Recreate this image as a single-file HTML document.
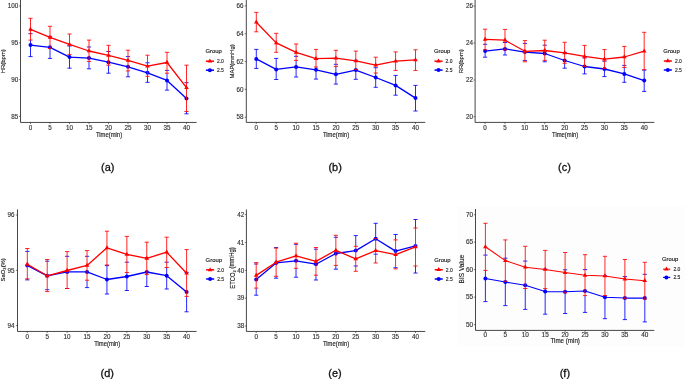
<!DOCTYPE html>
<html><head><meta charset="utf-8"><title>Figure</title>
<style>
html,body{margin:0;padding:0;background:#fff;}
body{width:685px;height:379px;overflow:hidden;}
svg{display:block;will-change:transform;}
text{stroke-width:0.15px;}
svg{font-family:"Liberation Sans",sans-serif;}
</style></head><body>
<svg width="685" height="379" viewBox="0 0 685 379">
<rect width="685" height="379" fill="#fff"/>
<rect x="457" y="206" width="228" height="141" fill="#fdfdfd"/>
<g id="pa"><path d="M20.5 0V122.45H196.6" fill="none" stroke="#262626" stroke-width="0.85"/>
<path d="M18.9 6H20.5M18.9 42.8H20.5M18.9 79.6H20.5M18.9 116.4H20.5M30.5 122.45V124.05M50 122.45V124.05M69.5 122.45V124.05M89 122.45V124.05M108.5 122.45V124.05M128 122.45V124.05M147.5 122.45V124.05M167 122.45V124.05M186.5 122.45V124.05" stroke="#262626" stroke-width="0.6"/>
<text x="18.3" y="6" text-anchor="end" font-size="6.3" fill="#333333" stroke="#333333" dy="0.35em">100</text>
<text x="18.3" y="42.8" text-anchor="end" font-size="6.3" fill="#333333" stroke="#333333" dy="0.35em">95</text>
<text x="18.3" y="79.6" text-anchor="end" font-size="6.3" fill="#333333" stroke="#333333" dy="0.35em">90</text>
<text x="18.3" y="116.4" text-anchor="end" font-size="6.3" fill="#333333" stroke="#333333" dy="0.35em">85</text>
<text x="30.5" y="127.6" text-anchor="middle" font-size="6.3" fill="#333333" stroke="#333333" dy="0.35em">0</text>
<text x="50" y="127.6" text-anchor="middle" font-size="6.3" fill="#333333" stroke="#333333" dy="0.35em">5</text>
<text x="69.5" y="127.6" text-anchor="middle" font-size="6.3" fill="#333333" stroke="#333333" dy="0.35em">10</text>
<text x="89" y="127.6" text-anchor="middle" font-size="6.3" fill="#333333" stroke="#333333" dy="0.35em">15</text>
<text x="108.5" y="127.6" text-anchor="middle" font-size="6.3" fill="#333333" stroke="#333333" dy="0.35em">20</text>
<text x="128" y="127.6" text-anchor="middle" font-size="6.3" fill="#333333" stroke="#333333" dy="0.35em">25</text>
<text x="147.5" y="127.6" text-anchor="middle" font-size="6.3" fill="#333333" stroke="#333333" dy="0.35em">30</text>
<text x="167" y="127.6" text-anchor="middle" font-size="6.3" fill="#333333" stroke="#333333" dy="0.35em">35</text>
<text x="186.5" y="127.6" text-anchor="middle" font-size="6.3" fill="#333333" stroke="#333333" dy="0.35em">40</text>
<text transform="translate(109 134.8) scale(0.89 1)" text-anchor="middle" font-size="6.6" fill="#222" stroke="#222" dy="0.35em">Time(min)</text>
<text transform="translate(2.9 61.2) rotate(-90) scale(1 1)" text-anchor="middle" font-size="5.9" fill="#222" stroke="#222" dy="0.35em">HR(bpm)</text>
<path d="M30.5 40.1V56.6M28.4 33.7H32.6M28.4 56.6H32.6M50 48.5V58.4M47.9 36.4H52.1M47.9 58.4H52.1M69.5 54.4V68.2M67.4 46H71.6M67.4 68.2H71.6M89 61.4V68.8M86.9 47H91.1M86.9 68.8H91.1M108.5 65.2V73.2M106.4 51.5H110.6M106.4 73.2H110.6M128 70.9V76.8M125.9 56.6H130.1M125.9 76.8H130.1M147.5 76.3V82.3M145.4 62.8H149.6M145.4 82.3H149.6M167 73.2V90.1M164.9 70.4H169.1M164.9 90.1H169.1M186.5 111.5V113.8M184.4 82.7H188.6M184.4 113.8H188.6" stroke="#0000ff" stroke-width="0.85" stroke-opacity="1" fill="none"/>
<polyline points="30.5,45.1 50,47.3 69.5,57.1 89,58.1 108.5,62.2 128,66.8 147.5,72.8 167,80.4 186.5,98.6" fill="none" stroke="#0000ff" stroke-width="1.3" stroke-linejoin="round"/>
<g fill="#0000ff"><circle cx="30.5" cy="45.1" r="2"/><circle cx="50" cy="47.3" r="2"/><circle cx="69.5" cy="57.1" r="2"/><circle cx="89" cy="58.1" r="2"/><circle cx="108.5" cy="62.2" r="2"/><circle cx="128" cy="66.8" r="2"/><circle cx="147.5" cy="72.8" r="2"/><circle cx="167" cy="80.4" r="2"/><circle cx="186.5" cy="98.6" r="2"/></g>
<path d="M30.5 18.3V40.1M28.4 18.3H32.6M28.4 40.1H32.6M50 26.3V48.5M47.9 26.3H52.1M47.9 48.5H52.1M69.5 34V54.4M67.4 34H71.6M67.4 54.4H71.6M89 40.1V61.4M86.9 40.1H91.1M86.9 61.4H91.1M108.5 45.3V65.2M106.4 45.3H110.6M106.4 65.2H110.6M128 50.2V70.9M125.9 50.2H130.1M125.9 70.9H130.1M147.5 55.2V76.3M145.4 55.2H149.6M145.4 76.3H149.6M167 52.3V73.2M164.9 52.3H169.1M164.9 73.2H169.1M186.5 65.2V111.5M184.4 65.2H188.6M184.4 111.5H188.6" stroke="#ff0000" stroke-width="0.85" stroke-opacity="1" fill="none"/>
<polyline points="30.5,29.4 50,37.4 69.5,44.4 89,51 108.5,55.4 128,60.4 147.5,66.1 167,62.5 186.5,87.7" fill="none" stroke="#ff0000" stroke-width="1.3" stroke-linejoin="round"/>
<g fill="#ff0000"><path d="M30.5 26.74L32.8 30.73L28.2 30.73Z"/><path d="M50 34.74L52.3 38.73L47.7 38.73Z"/><path d="M69.5 41.74L71.8 45.73L67.2 45.73Z"/><path d="M89 48.34L91.3 52.33L86.7 52.33Z"/><path d="M108.5 52.74L110.8 56.73L106.2 56.73Z"/><path d="M128 57.74L130.3 61.73L125.7 61.73Z"/><path d="M147.5 63.44L149.8 67.43L145.2 67.43Z"/><path d="M167 59.84L169.3 63.83L164.7 63.83Z"/><path d="M186.5 85.04L188.8 89.03L184.2 89.03Z"/></g>
<text x="205.4" y="51" font-size="5.9" fill="#222" stroke="#222" dy="0.35em">Group</text>
<path d="M205.9 61.2H214" stroke="#ff0000" stroke-width="1.5"/>
<g fill="#ff0000"><path d="M209.9 58.54L212.2 62.53L207.6 62.53Z"/></g>
<text transform="translate(217 61.2) scale(0.84 1)" font-size="5.9" fill="#222" stroke="#222" dy="0.35em">2.0</text>
<path d="M205.9 70.2H214" stroke="#0000ff" stroke-width="1.5"/>
<circle cx="209.9" cy="70.2" r="2" fill="#0000ff"/>
<text transform="translate(217 70.2) scale(0.84 1)" font-size="5.9" fill="#222" stroke="#222" dy="0.35em">2.5</text>
<text transform="translate(101 166.8) scale(0.97 1)" font-size="11.3" fill="#111" stroke="#111" style="stroke-width:0.3px" dy="0.35em">(a)</text></g>
<g id="pb"><path d="M246.3 0V122.4H425.3" fill="none" stroke="#262626" stroke-width="0.85"/>
<path d="M244.7 5.9H246.3M244.7 33.8H246.3M244.7 61.6H246.3M244.7 89.3H246.3M244.7 117.2H246.3M256.3 122.4V124M276.2 122.4V124M296.1 122.4V124M316 122.4V124M335.9 122.4V124M355.8 122.4V124M375.7 122.4V124M395.6 122.4V124M415.5 122.4V124" stroke="#262626" stroke-width="0.6"/>
<text x="243.6" y="5.9" text-anchor="end" font-size="6.3" fill="#333333" stroke="#333333" dy="0.35em">66</text>
<text x="243.6" y="33.8" text-anchor="end" font-size="6.3" fill="#333333" stroke="#333333" dy="0.35em">64</text>
<text x="243.6" y="61.6" text-anchor="end" font-size="6.3" fill="#333333" stroke="#333333" dy="0.35em">62</text>
<text x="243.6" y="89.3" text-anchor="end" font-size="6.3" fill="#333333" stroke="#333333" dy="0.35em">60</text>
<text x="243.6" y="117.2" text-anchor="end" font-size="6.3" fill="#333333" stroke="#333333" dy="0.35em">58</text>
<text x="256.3" y="127.6" text-anchor="middle" font-size="6.3" fill="#333333" stroke="#333333" dy="0.35em">0</text>
<text x="276.2" y="127.6" text-anchor="middle" font-size="6.3" fill="#333333" stroke="#333333" dy="0.35em">5</text>
<text x="296.1" y="127.6" text-anchor="middle" font-size="6.3" fill="#333333" stroke="#333333" dy="0.35em">10</text>
<text x="316" y="127.6" text-anchor="middle" font-size="6.3" fill="#333333" stroke="#333333" dy="0.35em">15</text>
<text x="335.9" y="127.6" text-anchor="middle" font-size="6.3" fill="#333333" stroke="#333333" dy="0.35em">20</text>
<text x="355.8" y="127.6" text-anchor="middle" font-size="6.3" fill="#333333" stroke="#333333" dy="0.35em">25</text>
<text x="375.7" y="127.6" text-anchor="middle" font-size="6.3" fill="#333333" stroke="#333333" dy="0.35em">30</text>
<text x="395.6" y="127.6" text-anchor="middle" font-size="6.3" fill="#333333" stroke="#333333" dy="0.35em">35</text>
<text x="415.5" y="127.6" text-anchor="middle" font-size="6.3" fill="#333333" stroke="#333333" dy="0.35em">40</text>
<text transform="translate(336 134.8) scale(0.89 1)" text-anchor="middle" font-size="6.6" fill="#222" stroke="#222" dy="0.35em">Time(min)</text>
<text transform="translate(231.5 61.4) rotate(-90) scale(1 1)" text-anchor="middle" font-size="5.9" fill="#222" stroke="#222" dy="0.35em">MAP(mmHg)</text>
<path d="M256.3 49.4V68.4M254.2 49.4H258.4M254.2 68.4H258.4M276.2 58.4V79.5M274.1 58.4H278.3M274.1 79.5H278.3M296.1 60.4V77M294 56.3H298.2M294 77H298.2M316 67V79.1M313.9 59.5H318.1M313.9 79.1H318.1M335.9 66.4V84.1M333.8 64.3H338M333.8 84.1H338M355.8 69.6V79.3M353.7 60.3H357.9M353.7 79.3H357.9M375.7 73V87.3M373.6 67.7H377.8M373.6 87.3H377.8M395.6 75.4V95.2M393.5 75.4H397.7M393.5 95.2H397.7M415.5 85.4V111M413.4 85.4H417.6M413.4 111H417.6" stroke="#0000ff" stroke-width="0.85" stroke-opacity="1" fill="none"/>
<polyline points="256.3,58.9 276.2,69.4 296.1,66.9 316,69.8 335.9,74.3 355.8,70.1 375.7,77.5 395.6,85.4 415.5,98.1" fill="none" stroke="#0000ff" stroke-width="1.3" stroke-linejoin="round"/>
<g fill="#0000ff"><circle cx="256.3" cy="58.9" r="2"/><circle cx="276.2" cy="69.4" r="2"/><circle cx="296.1" cy="66.9" r="2"/><circle cx="316" cy="69.8" r="2"/><circle cx="335.9" cy="74.3" r="2"/><circle cx="355.8" cy="70.1" r="2"/><circle cx="375.7" cy="77.5" r="2"/><circle cx="395.6" cy="85.4" r="2"/><circle cx="415.5" cy="98.1" r="2"/></g>
<path d="M256.3 12.4V31.8M254.2 12.4H258.4M254.2 31.8H258.4M276.2 33.3V52.3M274.1 33.3H278.3M274.1 52.3H278.3M296.1 44V60.4M294 44H298.2M294 60.4H298.2M316 49.4V67M313.9 49.4H318.1M313.9 67H318.1M335.9 50.3V66.4M333.8 50.3H338M333.8 66.4H338M355.8 51.1V69.6M353.7 51.1H357.9M353.7 69.6H357.9M375.7 57.2V73M373.6 57.2H377.8M373.6 73H377.8M395.6 51.9V70.4M393.5 51.9H397.7M393.5 70.4H397.7M415.5 49.8V70.4M413.4 49.8H417.6M413.4 70.4H417.6" stroke="#ff0000" stroke-width="0.85" stroke-opacity="1" fill="none"/>
<polyline points="256.3,22.2 276.2,42.9 296.1,52.3 316,58.6 335.9,58.2 355.8,60.9 375.7,65.1 395.6,61.1 415.5,59.8" fill="none" stroke="#ff0000" stroke-width="1.3" stroke-linejoin="round"/>
<g fill="#ff0000"><path d="M256.3 19.54L258.6 23.53L254 23.53Z"/><path d="M276.2 40.24L278.5 44.23L273.9 44.23Z"/><path d="M296.1 49.64L298.4 53.63L293.8 53.63Z"/><path d="M316 55.94L318.3 59.93L313.7 59.93Z"/><path d="M335.9 55.54L338.2 59.53L333.6 59.53Z"/><path d="M355.8 58.24L358.1 62.23L353.5 62.23Z"/><path d="M375.7 62.44L378 66.43L373.4 66.43Z"/><path d="M395.6 58.44L397.9 62.43L393.3 62.43Z"/><path d="M415.5 57.14L417.8 61.13L413.2 61.13Z"/></g>
<text x="434" y="51" font-size="5.9" fill="#222" stroke="#222" dy="0.35em">Group</text>
<path d="M434.5 61.2H442.6" stroke="#ff0000" stroke-width="1.5"/>
<g fill="#ff0000"><path d="M438.5 58.54L440.8 62.53L436.2 62.53Z"/></g>
<text transform="translate(445.6 61.2) scale(0.84 1)" font-size="5.9" fill="#222" stroke="#222" dy="0.35em">2.0</text>
<path d="M434.5 70.1H442.6" stroke="#0000ff" stroke-width="1.5"/>
<circle cx="438.5" cy="70.1" r="2" fill="#0000ff"/>
<text transform="translate(445.6 70.1) scale(0.84 1)" font-size="5.9" fill="#222" stroke="#222" dy="0.35em">2.5</text>
<text transform="translate(328.4 166.8) scale(0.97 1)" font-size="11.3" fill="#111" stroke="#111" style="stroke-width:0.3px" dy="0.35em">(b)</text></g>
<g id="pc"><path d="M475.1 0V122.4H654.3" fill="none" stroke="#262626" stroke-width="0.85"/>
<path d="M473.5 6.1H475.1M473.5 43H475.1M473.5 80H475.1M473.5 116.7H475.1M485.1 122.4V124M504.99 122.4V124M524.88 122.4V124M544.76 122.4V124M564.65 122.4V124M584.54 122.4V124M604.43 122.4V124M624.31 122.4V124M644.2 122.4V124" stroke="#262626" stroke-width="0.6"/>
<text x="472.9" y="6.1" text-anchor="end" font-size="6.3" fill="#333333" stroke="#333333" dy="0.35em">26</text>
<text x="472.9" y="43" text-anchor="end" font-size="6.3" fill="#333333" stroke="#333333" dy="0.35em">24</text>
<text x="472.9" y="80" text-anchor="end" font-size="6.3" fill="#333333" stroke="#333333" dy="0.35em">22</text>
<text x="472.9" y="116.7" text-anchor="end" font-size="6.3" fill="#333333" stroke="#333333" dy="0.35em">20</text>
<text x="485.1" y="127.6" text-anchor="middle" font-size="6.3" fill="#333333" stroke="#333333" dy="0.35em">0</text>
<text x="504.99" y="127.6" text-anchor="middle" font-size="6.3" fill="#333333" stroke="#333333" dy="0.35em">5</text>
<text x="524.88" y="127.6" text-anchor="middle" font-size="6.3" fill="#333333" stroke="#333333" dy="0.35em">10</text>
<text x="544.76" y="127.6" text-anchor="middle" font-size="6.3" fill="#333333" stroke="#333333" dy="0.35em">15</text>
<text x="564.65" y="127.6" text-anchor="middle" font-size="6.3" fill="#333333" stroke="#333333" dy="0.35em">20</text>
<text x="584.54" y="127.6" text-anchor="middle" font-size="6.3" fill="#333333" stroke="#333333" dy="0.35em">25</text>
<text x="604.43" y="127.6" text-anchor="middle" font-size="6.3" fill="#333333" stroke="#333333" dy="0.35em">30</text>
<text x="624.31" y="127.6" text-anchor="middle" font-size="6.3" fill="#333333" stroke="#333333" dy="0.35em">35</text>
<text x="644.2" y="127.6" text-anchor="middle" font-size="6.3" fill="#333333" stroke="#333333" dy="0.35em">40</text>
<text transform="translate(565.1 134.8) scale(0.89 1)" text-anchor="middle" font-size="6.6" fill="#222" stroke="#222" dy="0.35em">Time(min)</text>
<text transform="translate(460.5 61.2) rotate(-90) scale(1 1)" text-anchor="middle" font-size="5.9" fill="#222" stroke="#222" dy="0.35em">RR(bpm)</text>
<path d="M485.1 49.8V57.2M483 44.3H487.2M483 57.2H487.2M504.99 50V55M502.89 42.5H507.09M502.89 55H507.09M522.77 43.4H526.98M522.77 60.4H526.98M544.76 60.4V61.8M542.66 45.2H546.86M542.66 61.8H546.86M564.65 63.3V68.2M562.55 52.5H566.75M562.55 68.2H566.75M584.54 66.5V73.9M582.44 58H586.64M582.44 73.9H586.64M604.43 68.5V76.6M602.33 61.2H606.53M602.33 76.6H606.53M624.31 67.5V82.3M622.21 65.4H626.41M622.21 82.3H626.41M644.2 70.1V91.4M642.1 70.1H646.3M642.1 91.4H646.3" stroke="#0000ff" stroke-width="0.85" stroke-opacity="1" fill="none"/>
<polyline points="485.1,51.1 504.99,48.9 524.88,52.1 544.76,53.5 564.65,60.5 584.54,66.5 604.43,69 624.31,73.9 644.2,80.6" fill="none" stroke="#0000ff" stroke-width="1.3" stroke-linejoin="round"/>
<g fill="#0000ff"><circle cx="485.1" cy="51.1" r="2"/><circle cx="504.99" cy="48.9" r="2"/><circle cx="524.88" cy="52.1" r="2"/><circle cx="544.76" cy="53.5" r="2"/><circle cx="564.65" cy="60.5" r="2"/><circle cx="584.54" cy="66.5" r="2"/><circle cx="604.43" cy="69" r="2"/><circle cx="624.31" cy="73.9" r="2"/><circle cx="644.2" cy="80.6" r="2"/></g>
<path d="M485.1 29.2V49.8M483 29.2H487.2M483 49.8H487.2M504.99 29.4V50M502.89 29.4H507.09M502.89 50H507.09M524.88 40.6V61.8M522.77 40.6H526.98M522.77 61.8H526.98M544.76 40.2V60.4M542.66 40.2H546.86M542.66 60.4H546.86M564.65 42.3V63.3M562.55 42.3H566.75M562.55 63.3H566.75M584.54 45.4V66.5M582.44 45.4H586.64M582.44 66.5H586.64M604.43 49.6V68.5M602.33 49.6H606.53M602.33 68.5H606.53M624.31 46.4V67.5M622.21 46.4H626.41M622.21 67.5H626.41M644.2 32.3V69.7M642.1 32.3H646.3M642.1 69.7H646.3" stroke="#ff0000" stroke-width="0.85" stroke-opacity="1" fill="none"/>
<polyline points="485.1,39.3 504.99,40.2 524.88,51.3 544.76,50.5 564.65,52.8 584.54,56.3 604.43,59.1 624.31,57 644.2,51.1" fill="none" stroke="#ff0000" stroke-width="1.3" stroke-linejoin="round"/>
<g fill="#ff0000"><path d="M485.1 36.64L487.4 40.63L482.8 40.63Z"/><path d="M504.99 37.54L507.29 41.53L502.69 41.53Z"/><path d="M524.88 48.64L527.17 52.63L522.58 52.63Z"/><path d="M544.76 47.84L547.06 51.83L542.46 51.83Z"/><path d="M564.65 50.14L566.95 54.13L562.35 54.13Z"/><path d="M584.54 53.64L586.84 57.63L582.24 57.63Z"/><path d="M604.43 56.44L606.73 60.43L602.13 60.43Z"/><path d="M624.31 54.34L626.61 58.33L622.01 58.33Z"/><path d="M644.2 48.44L646.5 52.43L641.9 52.43Z"/></g>
<text x="663.3" y="51" font-size="5.9" fill="#222" stroke="#222" dy="0.35em">Group</text>
<path d="M663.8 61H671.9" stroke="#ff0000" stroke-width="1.5"/>
<g fill="#ff0000"><path d="M667.8 58.34L670.1 62.33L665.5 62.33Z"/></g>
<text transform="translate(674.9 61) scale(0.84 1)" font-size="5.9" fill="#222" stroke="#222" dy="0.35em">2.0</text>
<path d="M663.8 70H671.9" stroke="#0000ff" stroke-width="1.5"/>
<circle cx="667.8" cy="70" r="2" fill="#0000ff"/>
<text transform="translate(674.9 70) scale(0.84 1)" font-size="5.9" fill="#222" stroke="#222" dy="0.35em">2.5</text>
<text transform="translate(558 166.9) scale(0.97 1)" font-size="11.3" fill="#111" stroke="#111" style="stroke-width:0.3px" dy="0.35em">(c)</text></g>
<g id="pd"><path d="M17.5 209.4V331.45H196.6" fill="none" stroke="#262626" stroke-width="0.85"/>
<path d="M15.9 215H17.5M15.9 270.4H17.5M15.9 325.6H17.5M27.3 331.45V333.05M47.21 331.45V333.05M67.12 331.45V333.05M87.04 331.45V333.05M106.95 331.45V333.05M126.86 331.45V333.05M146.77 331.45V333.05M166.69 331.45V333.05M186.6 331.45V333.05" stroke="#262626" stroke-width="0.6"/>
<text x="14.5" y="215" text-anchor="end" font-size="6.3" fill="#333333" stroke="#333333" dy="0.35em">96</text>
<text x="14.5" y="270.4" text-anchor="end" font-size="6.3" fill="#333333" stroke="#333333" dy="0.35em">95</text>
<text x="14.5" y="325.6" text-anchor="end" font-size="6.3" fill="#333333" stroke="#333333" dy="0.35em">94</text>
<text x="27.3" y="336.6" text-anchor="middle" font-size="6.3" fill="#333333" stroke="#333333" dy="0.35em">0</text>
<text x="47.21" y="336.6" text-anchor="middle" font-size="6.3" fill="#333333" stroke="#333333" dy="0.35em">5</text>
<text x="67.12" y="336.6" text-anchor="middle" font-size="6.3" fill="#333333" stroke="#333333" dy="0.35em">10</text>
<text x="87.04" y="336.6" text-anchor="middle" font-size="6.3" fill="#333333" stroke="#333333" dy="0.35em">15</text>
<text x="106.95" y="336.6" text-anchor="middle" font-size="6.3" fill="#333333" stroke="#333333" dy="0.35em">20</text>
<text x="126.86" y="336.6" text-anchor="middle" font-size="6.3" fill="#333333" stroke="#333333" dy="0.35em">25</text>
<text x="146.77" y="336.6" text-anchor="middle" font-size="6.3" fill="#333333" stroke="#333333" dy="0.35em">30</text>
<text x="166.69" y="336.6" text-anchor="middle" font-size="6.3" fill="#333333" stroke="#333333" dy="0.35em">35</text>
<text x="186.6" y="336.6" text-anchor="middle" font-size="6.3" fill="#333333" stroke="#333333" dy="0.35em">40</text>
<text transform="translate(107.2 343.8) scale(0.89 1)" text-anchor="middle" font-size="6.6" fill="#222" stroke="#222" dy="0.35em">Time(min)</text>
<text transform="translate(3.2 269.8) rotate(-90) scale(1 1)" text-anchor="middle" font-size="5.9" fill="#222" stroke="#222" dy="0.35em">SaO<tspan font-size="70%" dy="0.18em">2</tspan><tspan dy="-0.18em">(%)</tspan></text>
<path d="M27.3 278.8V279.9M25.2 251.4H29.4M25.2 279.9H29.4M45.11 261.2H49.31M45.11 289.7H49.31M65.03 256.3H69.22M65.03 288.5H69.22M87.04 280.2V287.6M84.94 256.3H89.14M84.94 287.6H89.14M106.95 265.6V294M104.85 265.6H109.05M104.85 294H109.05M126.86 272.5V290.5M124.76 262.2H128.96M124.76 290.5H128.96M146.77 274.6V286.5M144.67 257.5H148.87M144.67 286.5H148.87M166.69 267.5V289M164.59 262.2H168.79M164.59 289H168.79M186.6 296.4V311.8M184.5 272.4H188.7M184.5 311.8H188.7" stroke="#0000ff" stroke-width="0.85" stroke-opacity="1" fill="none"/>
<polyline points="27.3,265.4 47.21,275.8 67.12,271.9 87.04,271.9 106.95,279.5 126.86,276.5 146.77,272 166.69,275.7 186.6,292.1" fill="none" stroke="#0000ff" stroke-width="1.3" stroke-linejoin="round"/>
<g fill="#0000ff"><circle cx="27.3" cy="265.4" r="2"/><circle cx="47.21" cy="275.8" r="2"/><circle cx="67.12" cy="271.9" r="2"/><circle cx="87.04" cy="271.9" r="2"/><circle cx="106.95" cy="279.5" r="2"/><circle cx="126.86" cy="276.5" r="2"/><circle cx="146.77" cy="272" r="2"/><circle cx="166.69" cy="275.7" r="2"/><circle cx="186.6" cy="292.1" r="2"/></g>
<path d="M27.3 248.5V278.8M25.2 248.5H29.4M25.2 278.8H29.4M47.21 259.5V291.6M45.11 259.5H49.31M45.11 291.6H49.31M67.12 251.6V288.5M65.03 251.6H69.22M65.03 288.5H69.22M87.04 250.6V280.2M84.94 250.6H89.14M84.94 280.2H89.14M106.95 231.2V265M104.85 231.2H109.05M104.85 265H109.05M126.86 236.4V272.5M124.76 236.4H128.96M124.76 272.5H128.96M146.77 242.2V274.6M144.67 242.2H148.87M144.67 274.6H148.87M166.69 237.2V267.5M164.59 237.2H168.79M164.59 267.5H168.79M186.6 249.6V296.4M184.5 249.6H188.7M184.5 296.4H188.7" stroke="#ff0000" stroke-width="0.85" stroke-opacity="1" fill="none"/>
<polyline points="27.3,264.2 47.21,275.8 67.12,270.5 87.04,265.4 106.95,247.8 126.86,254.3 146.77,258.3 166.69,252.2 186.6,273.2" fill="none" stroke="#ff0000" stroke-width="1.3" stroke-linejoin="round"/>
<g fill="#ff0000"><path d="M27.3 261.54L29.6 265.53L25 265.53Z"/><path d="M47.21 273.14L49.51 277.13L44.91 277.13Z"/><path d="M67.12 267.84L69.42 271.83L64.83 271.83Z"/><path d="M87.04 262.74L89.34 266.73L84.74 266.73Z"/><path d="M106.95 245.14L109.25 249.13L104.65 249.13Z"/><path d="M126.86 251.64L129.16 255.63L124.56 255.63Z"/><path d="M146.77 255.64L149.07 259.63L144.47 259.63Z"/><path d="M166.69 249.54L168.99 253.53L164.39 253.53Z"/><path d="M186.6 270.54L188.9 274.53L184.3 274.53Z"/></g>
<text x="205.6" y="259.6" font-size="5.9" fill="#222" stroke="#222" dy="0.35em">Group</text>
<path d="M206.1 269.8H214.2" stroke="#ff0000" stroke-width="1.5"/>
<g fill="#ff0000"><path d="M210.1 267.14L212.4 271.13L207.8 271.13Z"/></g>
<text transform="translate(217.2 269.8) scale(0.84 1)" font-size="5.9" fill="#222" stroke="#222" dy="0.35em">2.0</text>
<path d="M206.1 279H214.2" stroke="#0000ff" stroke-width="1.5"/>
<circle cx="210.1" cy="279" r="2" fill="#0000ff"/>
<text transform="translate(217.2 279) scale(0.84 1)" font-size="5.9" fill="#222" stroke="#222" dy="0.35em">2.5</text>
<text transform="translate(100.5 372.7) scale(0.97 1)" font-size="11.3" fill="#111" stroke="#111" style="stroke-width:0.3px" dy="0.35em">(d)</text></g>
<g id="pe"><path d="M246.4 209.5V331.45H425.3" fill="none" stroke="#262626" stroke-width="0.85"/>
<path d="M244.8 214.6H246.4M244.8 242.5H246.4M244.8 270.4H246.4M244.8 298.2H246.4M244.8 326H246.4M256.2 331.45V333.05M276.11 331.45V333.05M296.02 331.45V333.05M315.94 331.45V333.05M335.85 331.45V333.05M355.76 331.45V333.05M375.67 331.45V333.05M395.59 331.45V333.05M415.5 331.45V333.05" stroke="#262626" stroke-width="0.6"/>
<text x="244.2" y="214.6" text-anchor="end" font-size="6.3" fill="#333333" stroke="#333333" dy="0.35em">42</text>
<text x="244.2" y="242.5" text-anchor="end" font-size="6.3" fill="#333333" stroke="#333333" dy="0.35em">41</text>
<text x="244.2" y="270.4" text-anchor="end" font-size="6.3" fill="#333333" stroke="#333333" dy="0.35em">40</text>
<text x="244.2" y="298.2" text-anchor="end" font-size="6.3" fill="#333333" stroke="#333333" dy="0.35em">39</text>
<text x="244.2" y="326" text-anchor="end" font-size="6.3" fill="#333333" stroke="#333333" dy="0.35em">38</text>
<text x="256.2" y="336.6" text-anchor="middle" font-size="6.3" fill="#333333" stroke="#333333" dy="0.35em">0</text>
<text x="276.11" y="336.6" text-anchor="middle" font-size="6.3" fill="#333333" stroke="#333333" dy="0.35em">5</text>
<text x="296.02" y="336.6" text-anchor="middle" font-size="6.3" fill="#333333" stroke="#333333" dy="0.35em">10</text>
<text x="315.94" y="336.6" text-anchor="middle" font-size="6.3" fill="#333333" stroke="#333333" dy="0.35em">15</text>
<text x="335.85" y="336.6" text-anchor="middle" font-size="6.3" fill="#333333" stroke="#333333" dy="0.35em">20</text>
<text x="355.76" y="336.6" text-anchor="middle" font-size="6.3" fill="#333333" stroke="#333333" dy="0.35em">25</text>
<text x="375.67" y="336.6" text-anchor="middle" font-size="6.3" fill="#333333" stroke="#333333" dy="0.35em">30</text>
<text x="395.59" y="336.6" text-anchor="middle" font-size="6.3" fill="#333333" stroke="#333333" dy="0.35em">35</text>
<text x="415.5" y="336.6" text-anchor="middle" font-size="6.3" fill="#333333" stroke="#333333" dy="0.35em">40</text>
<text transform="translate(336 343.8) scale(0.89 1)" text-anchor="middle" font-size="6.6" fill="#222" stroke="#222" dy="0.35em">Time(min)</text>
<text transform="translate(232.5 268) rotate(-90) scale(0.93 1)" text-anchor="middle" font-size="6.3" fill="#222" stroke="#222" dy="0.35em">ETCO<tspan font-size="70%" dy="0.25em">2</tspan><tspan dy="-0.25em"> (mmHg)</tspan></text>
<path d="M256.2 288.1V295.2M254.1 264H258.3M254.1 295.2H258.3M276.11 247.6V248.1M276.11 276.3V278.2M274.01 247.6H278.21M274.01 278.2H278.21M296.02 268.3V277.2M293.92 244.3H298.12M293.92 277.2H298.12M315.94 275.2V280M313.84 249.2H318.04M313.84 280H318.04M335.85 265.4V269.2M333.75 237.3H337.95M333.75 269.2H337.95M355.76 235.6V246.3M353.66 235.6H357.86M353.66 266H357.86M375.67 223.3V238.5M373.57 223.3H377.77M373.57 254.2H377.77M395.59 234.5V239.9M393.49 234.5H397.69M393.49 267.7H397.69M415.5 219.5V228M415.5 266V273M413.4 219.5H417.6M413.4 273H417.6" stroke="#0000ff" stroke-width="0.85" stroke-opacity="1" fill="none"/>
<polyline points="256.2,279.5 276.11,262.9 296.02,260.8 315.94,264.2 335.85,253.5 355.76,250.6 375.67,238.7 395.59,251.1 415.5,245.9" fill="none" stroke="#0000ff" stroke-width="1.3" stroke-linejoin="round"/>
<g fill="#0000ff"><circle cx="256.2" cy="279.5" r="2"/><circle cx="276.11" cy="262.9" r="2"/><circle cx="296.02" cy="260.8" r="2"/><circle cx="315.94" cy="264.2" r="2"/><circle cx="335.85" cy="253.5" r="2"/><circle cx="355.76" cy="250.6" r="2"/><circle cx="375.67" cy="238.7" r="2"/><circle cx="395.59" cy="251.1" r="2"/><circle cx="415.5" cy="245.9" r="2"/></g>
<path d="M256.2 262.6V288.1M254.1 262.6H258.3M254.1 288.1H258.3M276.11 248.1V276.3M274.01 248.1H278.21M274.01 276.3H278.21M296.02 243.2V268.3M293.92 243.2H298.12M293.92 268.3H298.12M315.94 247.5V275.2M313.84 247.5H318.04M313.84 275.2H318.04M335.85 235.3V265.4M333.75 235.3H337.95M333.75 265.4H337.95M355.76 246.3V271.3M353.66 246.3H357.86M353.66 271.3H357.86M375.67 238.5V263M373.57 238.5H377.77M373.57 263H377.77M395.59 239.9V268.9M393.49 239.9H397.69M393.49 268.9H397.69M415.5 228V266M413.4 228H417.6M413.4 266H417.6" stroke="#ff0000" stroke-width="0.85" stroke-opacity="1" fill="none"/>
<polyline points="256.2,275.4 276.11,262.2 296.02,255.9 315.94,261.4 335.85,250.3 355.76,258.9 375.67,250.6 395.59,254.7 415.5,246.8" fill="none" stroke="#ff0000" stroke-width="1.3" stroke-linejoin="round"/>
<g fill="#ff0000"><path d="M256.2 272.74L258.5 276.73L253.9 276.73Z"/><path d="M276.11 259.54L278.41 263.53L273.81 263.53Z"/><path d="M296.02 253.24L298.32 257.23L293.72 257.23Z"/><path d="M315.94 258.74L318.24 262.73L313.64 262.73Z"/><path d="M335.85 247.64L338.15 251.63L333.55 251.63Z"/><path d="M355.76 256.24L358.06 260.23L353.46 260.23Z"/><path d="M375.67 247.94L377.97 251.93L373.37 251.93Z"/><path d="M395.59 252.04L397.89 256.03L393.29 256.03Z"/><path d="M415.5 244.14L417.8 248.13L413.2 248.13Z"/></g>
<text x="434.2" y="259.6" font-size="5.9" fill="#222" stroke="#222" dy="0.35em">Group</text>
<path d="M434.7 269.7H442.8" stroke="#ff0000" stroke-width="1.5"/>
<g fill="#ff0000"><path d="M438.7 267.04L441 271.03L436.4 271.03Z"/></g>
<text transform="translate(445.8 269.7) scale(0.84 1)" font-size="5.9" fill="#222" stroke="#222" dy="0.35em">2.0</text>
<path d="M434.7 279H442.8" stroke="#0000ff" stroke-width="1.5"/>
<circle cx="438.7" cy="279" r="2" fill="#0000ff"/>
<text transform="translate(445.8 279) scale(0.84 1)" font-size="5.9" fill="#222" stroke="#222" dy="0.35em">2.5</text>
<text transform="translate(328.3 372.7) scale(0.97 1)" font-size="11.3" fill="#111" stroke="#111" style="stroke-width:0.3px" dy="0.35em">(e)</text></g>
<g id="pf"><path d="M475.5 209V330.4H654.3" fill="none" stroke="#262626" stroke-width="0.85"/>
<path d="M473.9 214.7H475.5M473.9 242.2H475.5M473.9 269.6H475.5M473.9 297.2H475.5M473.9 324.6H475.5M485.4 330.4V332M505.32 330.4V332M525.25 330.4V332M545.17 330.4V332M565.1 330.4V332M585.02 330.4V332M604.95 330.4V332M624.88 330.4V332M644.8 330.4V332" stroke="#262626" stroke-width="0.6"/>
<text x="473.2" y="214.7" text-anchor="end" font-size="6.45" fill="#333333" stroke="#333333" dy="0.35em">70</text>
<text x="473.2" y="242.2" text-anchor="end" font-size="6.45" fill="#333333" stroke="#333333" dy="0.35em">65</text>
<text x="473.2" y="269.6" text-anchor="end" font-size="6.45" fill="#333333" stroke="#333333" dy="0.35em">60</text>
<text x="473.2" y="297.2" text-anchor="end" font-size="6.45" fill="#333333" stroke="#333333" dy="0.35em">55</text>
<text x="473.2" y="324.6" text-anchor="end" font-size="6.45" fill="#333333" stroke="#333333" dy="0.35em">50</text>
<text x="485.4" y="334.6" text-anchor="middle" font-size="6.45" fill="#333333" stroke="#333333" dy="0.35em">0</text>
<text x="505.32" y="334.6" text-anchor="middle" font-size="6.45" fill="#333333" stroke="#333333" dy="0.35em">5</text>
<text x="525.25" y="334.6" text-anchor="middle" font-size="6.45" fill="#333333" stroke="#333333" dy="0.35em">10</text>
<text x="545.17" y="334.6" text-anchor="middle" font-size="6.45" fill="#333333" stroke="#333333" dy="0.35em">15</text>
<text x="565.1" y="334.6" text-anchor="middle" font-size="6.45" fill="#333333" stroke="#333333" dy="0.35em">20</text>
<text x="585.02" y="334.6" text-anchor="middle" font-size="6.45" fill="#333333" stroke="#333333" dy="0.35em">25</text>
<text x="604.95" y="334.6" text-anchor="middle" font-size="6.45" fill="#333333" stroke="#333333" dy="0.35em">30</text>
<text x="624.88" y="334.6" text-anchor="middle" font-size="6.45" fill="#333333" stroke="#333333" dy="0.35em">35</text>
<text x="644.8" y="334.6" text-anchor="middle" font-size="6.45" fill="#333333" stroke="#333333" dy="0.35em">40</text>
<text transform="translate(565.2 341.1) scale(0.93 1)" text-anchor="middle" font-size="6.7" fill="#222" stroke="#222" dy="0.35em">Time (min)</text>
<text transform="translate(461.8 269.1) rotate(-90) scale(1 1)" text-anchor="middle" font-size="6.6" fill="#222" stroke="#222" dy="0.35em">BIS Value</text>
<path d="M485.4 270.4V301.6M483.3 255.1H487.5M483.3 301.6H487.5M505.32 281.3V305.6M503.22 258.2H507.43M503.22 305.6H507.43M525.25 288.5V309.4M523.15 261.1H527.35M523.15 309.4H527.35M545.17 288.6V314.2M543.07 269H547.27M543.07 314.2H547.27M565.1 292.8V313.5M563 269.8H567.2M563 313.5H567.2M585.02 295.6V312.4M582.92 269.6H587.12M582.92 312.4H587.12M604.95 295.5V318.7M602.85 275.7H607.05M602.85 318.7H607.05M624.88 298.7V319.6M622.77 276.6H626.98M622.77 319.6H626.98M644.8 299.1V321.9M642.7 274.3H646.9M642.7 321.9H646.9" stroke="#0000ff" stroke-width="0.85" stroke-opacity="1" fill="none"/>
<polyline points="485.4,278.4 505.32,282.1 525.25,285.3 545.17,291.6 565.1,291.7 585.02,291.1 604.95,297.2 624.88,298.1 644.8,298.1" fill="none" stroke="#0000ff" stroke-width="1.05" stroke-linejoin="round"/>
<g fill="#0000ff"><circle cx="485.4" cy="278.4" r="2"/><circle cx="505.32" cy="282.1" r="2"/><circle cx="525.25" cy="285.3" r="2"/><circle cx="545.17" cy="291.6" r="2"/><circle cx="565.1" cy="291.7" r="2"/><circle cx="585.02" cy="291.1" r="2"/><circle cx="604.95" cy="297.2" r="2"/><circle cx="624.88" cy="298.1" r="2"/><circle cx="644.8" cy="298.1" r="2"/></g>
<path d="M485.4 223.3V270.4M483.3 223.3H487.5M483.3 270.4H487.5M505.32 239.9V281.3M503.22 239.9H507.43M503.22 281.3H507.43M525.25 246.3V288.5M523.15 246.3H527.35M523.15 288.5H527.35M545.17 250.4V288.6M543.07 250.4H547.27M543.07 288.6H547.27M565.1 252.5V292.8M563 252.5H567.2M563 292.8H567.2M585.02 254.7V295.6M582.92 254.7H587.12M582.92 295.6H587.12M604.95 256.3V295.5M602.85 256.3H607.05M602.85 295.5H607.05M624.88 259.5V298.7M622.77 259.5H626.98M622.77 298.7H626.98M644.8 262.3V299.1M642.7 262.3H646.9M642.7 299.1H646.9" stroke="#ff0000" stroke-width="0.85" stroke-opacity="1" fill="none"/>
<polyline points="485.4,246.8 505.32,260.6 525.25,267.2 545.17,269.5 565.1,272.6 585.02,275.3 604.95,275.9 624.88,279.1 644.8,280.7" fill="none" stroke="#ff0000" stroke-width="1.05" stroke-linejoin="round"/>
<g fill="#ff0000"><path d="M485.4 244.14L487.7 248.13L483.1 248.13Z"/><path d="M505.32 257.94L507.62 261.93L503.02 261.93Z"/><path d="M525.25 264.54L527.55 268.53L522.95 268.53Z"/><path d="M545.17 266.84L547.47 270.83L542.88 270.83Z"/><path d="M565.1 269.94L567.4 273.93L562.8 273.93Z"/><path d="M585.02 272.64L587.32 276.63L582.73 276.63Z"/><path d="M604.95 273.24L607.25 277.23L602.65 277.23Z"/><path d="M624.88 276.44L627.17 280.43L622.58 280.43Z"/><path d="M644.8 278.04L647.1 282.03L642.5 282.03Z"/></g>
<text x="661.9" y="259.2" font-size="5.9" fill="#222" stroke="#222" dy="0.35em">Group</text>
<path d="M663.1 269.2H670.2" stroke="#ff0000" stroke-width="1.2"/>
<g fill="#ff0000"><path d="M666.4 266.54L668.7 270.53L664.1 270.53Z"/></g>
<text transform="translate(673.5 269.2) scale(0.84 1)" font-size="5.9" fill="#222" stroke="#222" dy="0.35em">2.0</text>
<path d="M663.1 277.4H670.2" stroke="#0000ff" stroke-width="1.2"/>
<circle cx="666.4" cy="277.4" r="2" fill="#0000ff"/>
<text transform="translate(673.5 277.4) scale(0.84 1)" font-size="5.9" fill="#222" stroke="#222" dy="0.35em">2.5</text>
<text transform="translate(559.7 372.7) scale(0.97 1)" font-size="11.3" fill="#111" stroke="#111" style="stroke-width:0.3px" dy="0.35em">(f)</text></g>
</svg>
</body></html>
